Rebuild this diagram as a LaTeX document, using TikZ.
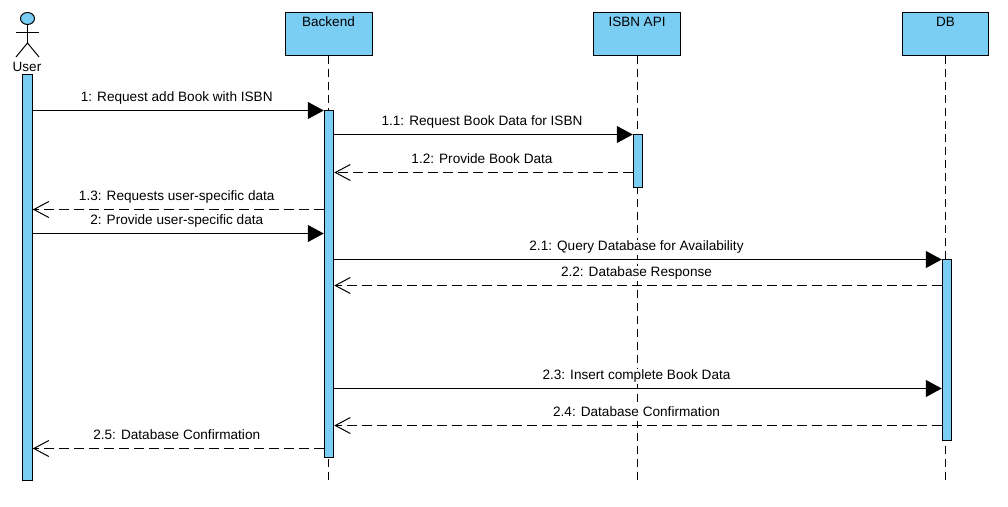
\documentclass[tikz,border=0pt]{standalone}
\usepackage{fontspec}
\setmainfont{Liberation Sans}
\usetikzlibrary{arrows.meta,shapes.geometric}
\definecolor{lifeblue}{HTML}{7ACEF4}
\tikzset{
  objbox/.style={draw=black, fill=lifeblue, line width=1pt, minimum width=87pt, minimum height=43pt, anchor=center, text height=14.5pt, text depth=28.5pt, inner sep=0pt, font=\fontsize{13.5}{15}\selectfont},
  actbar/.style={draw=black, fill=lifeblue, line width=1pt, minimum width=9.5pt, inner sep=0pt},
  lifeline/.style={line width=1pt, dash pattern=on 8pt off 5pt},
  syncmsg/.style={line width=1pt, -{Triangle[length=16pt,width=17pt]}},
  replymsg/.style={line width=1pt, dash pattern=on 10pt off 5pt, -{Straight Barb[length=15pt,width=16pt]}},
  msglabel/.style={midway, above=4.5pt, xshift=-1.5pt, fill=white, inner sep=1pt, text height=10pt, text depth=3pt, font=\fontsize{13.6}{15}\selectfont}
}
\begin{document}
\begin{tikzpicture}[x=1pt, y=-1pt]
  \useasboundingbox (0,0) rectangle (1008,506);

  % Draw the objects
  \node[objbox] (backend) at (328.5,33.5) {Backend};
  \node[objbox] (isbn) at (637,33.5) {ISBN API};
  \node[objbox, minimum width=86pt] (db) at (945.5,33.5) {DB};

  % Draw the actor
  \node[ellipse, draw=black, fill=lifeblue, line width=1pt, minimum width=14pt, minimum height=12pt, inner sep=0pt] (head) at (27.5,18.5) {};
  \coordinate (hip) at (27.5,43);
  \draw[line width=1pt] (head.south) -- (hip);
  \draw[line width=1pt] (16,32.5) -- (39,32.5);
  \draw[line width=1pt] (16,57) -- (hip) -- (39,57);
  \node[font=\fontsize{13.5}{15}\selectfont, inner sep=0pt] (user) at (27,66.5) {User};

  % Draw the lifelines
  \coordinate (backendend) at (328.5,482);
  \coordinate (isbnend) at (637.5,482);
  \coordinate (dbend) at (945.5,482);
  \draw[lifeline] (backend.south) -- (backendend);
  \draw[lifeline] (isbn.south -| isbnend) -- (isbnend);
  \draw[lifeline] (db.south) -- (dbend);

  % Draw the activation bars
  \node[actbar, minimum height=406pt] (userbar) at (27.5,277.5) {};
  \node[actbar, minimum height=347pt] (backendbar) at (329,283.5) {};
  \node[actbar, minimum height=53pt] (isbnbar) at (638,160.5) {};
  \node[actbar, minimum height=181pt] (dbbar) at (947,350) {};

  % Message heights
  \coordinate (m1) at (0,110.5);
  \coordinate (m11) at (0,134.5);
  \coordinate (m12) at (0,172.5);
  \coordinate (m13) at (0,209.5);
  \coordinate (m2) at (0,233.5);
  \coordinate (m21) at (0,259.5);
  \coordinate (m22) at (0,285.5);
  \coordinate (m23) at (0,388.5);
  \coordinate (m24) at (0,425.5);
  \coordinate (m25) at (0,448.5);

  % Draw the messages
  \draw[syncmsg] (userbar.east |- m1) -- node[msglabel] {1: Request add Book with ISBN} (backendbar.west |- m1);
  \draw[syncmsg] (backendbar.east |- m11) -- node[msglabel] {1.1: Request Book Data for ISBN} (isbnbar.west |- m11);
  \draw[replymsg] (isbnbar.west |- m12) -- node[msglabel] {1.2: Provide Book Data} (backendbar.east |- m12);
  \draw[replymsg] (backendbar.west |- m13) -- node[msglabel] {1.3: Requests user-specific data} (userbar.east |- m13);
  \draw[syncmsg] (userbar.east |- m2) -- node[msglabel] {2: Provide user-specific data} (backendbar.west |- m2);
  \draw[syncmsg] (backendbar.east |- m21) -- node[msglabel] {2.1: Query Database for Availability} (dbbar.west |- m21);
  \draw[replymsg] (dbbar.west |- m22) -- node[msglabel] {2.2: Database Response} (backendbar.east |- m22);
  \draw[syncmsg] (backendbar.east |- m23) -- node[msglabel] {2.3: Insert complete Book Data} (dbbar.west |- m23);
  \draw[replymsg] (dbbar.west |- m24) -- node[msglabel] {2.4: Database Confirmation} (backendbar.east |- m24);
  \draw[replymsg] (backendbar.west |- m25) -- node[msglabel] {2.5: Database Confirmation} (userbar.east |- m25);
\end{tikzpicture}
\end{document}
